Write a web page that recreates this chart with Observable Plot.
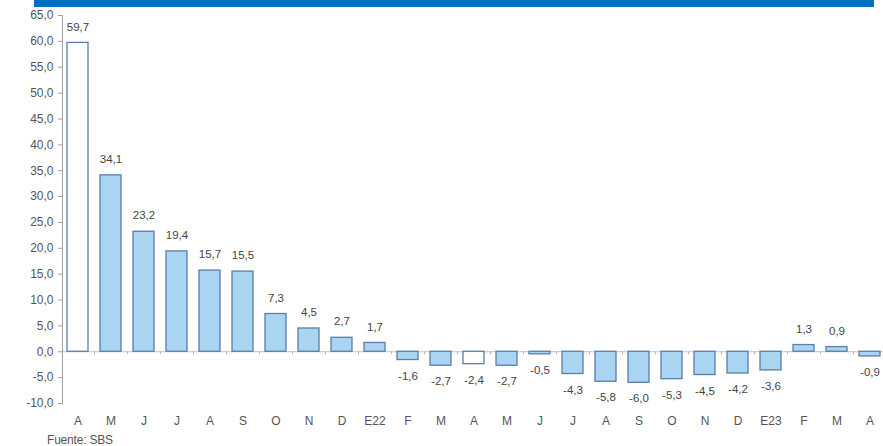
<!DOCTYPE html>
<html><head><meta charset="utf-8">
<script src="https://cdn.jsdelivr.net/npm/d3@7"></script>
<script src="https://cdn.jsdelivr.net/npm/@observablehq/plot@0.6"></script>
<style>
body{margin:0;background:#fff;font-family:"Liberation Sans",Arial,sans-serif;}
#wrap{position:relative;width:883px;height:446px;overflow:hidden;background:#fff}
#band{position:absolute;left:34px;top:0;width:840px;height:7px;background:#0070C0}
#chart{position:absolute;left:0;top:7px}
#cap{position:absolute;left:47px;top:433px;font-size:12px;color:#555;line-height:14px;letter-spacing:-0.2px}
</style></head><body>
<div id="wrap"><div id="band"></div><div id="chart"></div><div id="cap">Fuente: SBS</div></div>
<script>
const months = ["A","M","J","J","A","S","O","N","D","E22","F","M","A","M","J","J","A","S","O","N","D","E23","F","M","A"];
const values = [59.7,34.1,23.2,19.4,15.7,15.5,7.3,4.5,2.7,1.7,-1.6,-2.7,-2.4,-2.7,-0.5,-4.3,-5.8,-6.0,-5.3,-4.5,-4.2,-3.6,1.3,0.9,-0.9];
const yTicks = d3.range(-10, 66, 5);
const hollow = new Set([0, 12]);
const data = values.map((v, i) => ({i, month: months[i], v}));
const fmt = v => d3.format(".1f")(v).replace(".", ",").replace("\u2212", "-");
const font = '"Liberation Sans",Arial,sans-serif';

const chart = Plot.plot({
  width: 883,
  height: 425,
  marginLeft: 62,
  marginRight: 0,
  marginTop: 8,
  marginBottom: 29,
  style: {fontFamily: font, fontSize: "12px", color: "#555", background: "#fff"},
  x: {type: "band", domain: d3.range(values.length), range: [61.5, 886.5], paddingInner: 0.36, paddingOuter: 0.18},
  y: {domain: [-10, 65]},
  marks: [
    Plot.ruleY([0], {stroke: "#b7c4d2", strokeWidth: 1.2}),
    Plot.ruleX(data, {x: "i", y1: 0, y2: -0.6, dx: 16.5, stroke: "#d8b0a0"}),
    Plot.barY(data, {x: "i", y: "v", fill: d => hollow.has(d.i) ? "#ffffff" : "#a9d5f2", stroke: "#5a7daa", strokeWidth: 1.3}),
    Plot.text(data.filter(d => d.v >= 0), {x: "i", y: "v", text: d => fmt(d.v), dy: -16, fontSize: 11.5, fill: "#444"}),
    Plot.text(data.filter(d => d.v < 0), {x: "i", y: "v", text: d => fmt(d.v), dy: 16, fontSize: 11.5, fill: "#444"}),
    Plot.frame({anchor: "left", stroke: "#a0a0a0"}),
    Plot.axisY({ticks: yTicks, tickFormat: fmt, tickSize: 4, tickPadding: 5, stroke: "#a0a0a0", fill: "#555", fontSize: 12, label: null}),
    Plot.axisX({tickSize: 0, tickPadding: 13, tickFormat: i => months[i], fill: "#555", fontSize: 12, label: null})
  ]
});
document.getElementById("chart").appendChild(chart);
</script>
</body></html>
